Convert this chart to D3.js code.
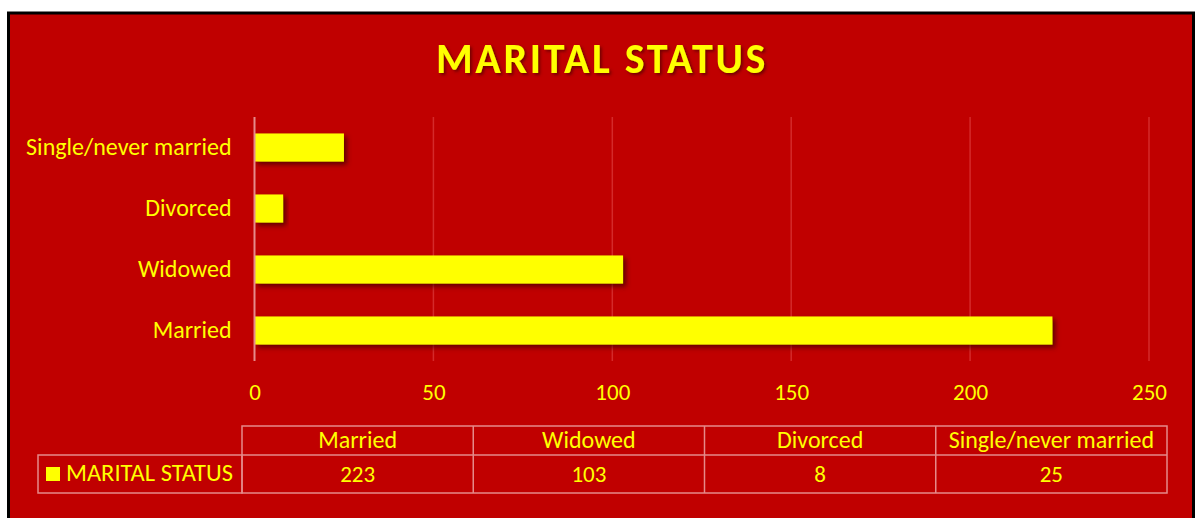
<!DOCTYPE html>
<html>
<head>
<meta charset="utf-8">
<script src="https://cdn.jsdelivr.net/npm/d3@7"></script>
<style>
  html, body { margin: 0; padding: 0; background: #fff; }
  svg { display: block; font-family: Calibri, Carlito, Lato, sans-serif; }
</style>
</head>
<body>
<div id="viz"></div>
<script>
const width = 1195;
const height = 518;
const margin = {top: 117, right: 46, bottom: 157, left: 254.5};

// data
const title = 'MARITAL STATUS';
const seriesName = 'MARITAL STATUS';
const categories = ['Married', 'Widowed', 'Divorced', 'Single/never married'];
const values = [223, 103, 8, 25];
const xTicks = [0, 50, 100, 150, 200, 250];

const red = '#C00000';
const yellow = '#FFFF00';
const lineColor = '#E58A8A';
const font = 'Calibri, Carlito, Lato, sans-serif';

const data = categories.map((c, i) => ({category: c, value: values[i]}));

const svg = d3.select('#viz')
  .append('svg')
    .attr('width', width)
    .attr('height', height);

// drop shadow used by bars and title
const defs = svg.append('defs');
const shadow = defs.append('filter')
  .attr('id', 'shadow')
  .attr('x', '-10%').attr('y', '-30%')
  .attr('width', '130%').attr('height', '180%');
shadow.append('feDropShadow')
  .attr('dx', 3).attr('dy', 3)
  .attr('stdDeviation', 2.5)
  .attr('flood-color', '#400000')
  .attr('flood-opacity', 0.75);

const tshadow = defs.append('filter').attr('id', 'tshadow');
tshadow.append('feDropShadow')
  .attr('dx', 2).attr('dy', 2)
  .attr('stdDeviation', 1.5)
  .attr('flood-color', '#400000')
  .attr('flood-opacity', 0.6);

// chart area with black frame
svg.append('rect')
  .attr('x', 8.5).attr('y', 13)
  .attr('width', 1185).attr('height', 520)
  .attr('fill', red)
  .attr('stroke', '#000')
  .attr('stroke-width', 3);

// title
svg.append('text')
  .attr('x', 602)
  .attr('y', 73)
  .attr('text-anchor', 'middle')
  .attr('font-weight', 'bold')
  .attr('font-size', 42)
  .attr('letter-spacing', 2.7)
  .attr('fill', yellow)
  .attr('filter', 'url(#tshadow)')
  .text(title);

// scales
const x = d3.scaleLinear()
  .domain([0, 250])
  .range([margin.left, width - margin.right]);

const y = d3.scaleBand()
  .domain(categories)
  .range([height - margin.bottom, margin.top])
  .paddingInner(0.54)
  .paddingOuter(0.27);

// gridlines
svg.append('g')
  .selectAll('line')
  .data(xTicks.slice(1))
  .join('line')
    .attr('x1', d => x(d)).attr('x2', d => x(d))
    .attr('y1', margin.top).attr('y2', height - margin.bottom)
    .attr('stroke', '#D42A2A')
    .attr('stroke-width', 1.5);

// bars
svg.append('g')
  .selectAll('rect')
  .data(data)
  .join('rect')
    .attr('x', x(0))
    .attr('y', d => y(d.category))
    .attr('width', d => x(d.value) - x(0))
    .attr('height', y.bandwidth())
    .attr('fill', yellow)
    .attr('filter', 'url(#shadow)');

// vertical axis line at zero
svg.append('line')
  .attr('x1', x(0)).attr('x2', x(0))
  .attr('y1', margin.top).attr('y2', height - margin.bottom)
  .attr('stroke', lineColor)
  .attr('stroke-width', 2);

// category axis
const axisLeft = d3.axisLeft(y).tickSize(0).tickPadding(23);
const yAxis = svg.append('g')
  .attr('transform', `translate(${x(0)},0)`)
  .call(axisLeft);
yAxis.select('.domain').remove();
yAxis.selectAll('text')
  .attr('fill', yellow)
  .attr('font-size', 24)
  .style('font-family', font);

// value axis
const axisBottom = d3.axisBottom(x).tickValues(xTicks).tickSize(0).tickPadding(23);
const xAxis = svg.append('g')
  .attr('transform', `translate(0,${height - margin.bottom})`)
  .call(axisBottom);
xAxis.select('.domain').remove();
xAxis.selectAll('text')
  .attr('fill', yellow)
  .attr('font-size', 23)
  .style('font-family', font);

// data table
const table = {left: 242, right: 1167, top: 426, mid: 455, bottom: 493, legendLeft: 38};
const col = d3.scaleBand()
  .domain(categories)
  .range([table.left, table.right]);

const tg = svg.append('g')
  .attr('stroke', lineColor)
  .attr('stroke-width', 1.5)
  .attr('fill', 'none');
tg.append('rect')
  .attr('x', table.left).attr('y', table.top)
  .attr('width', table.right - table.left).attr('height', table.bottom - table.top);
tg.append('rect')
  .attr('x', table.legendLeft).attr('y', table.mid)
  .attr('width', table.left - table.legendLeft).attr('height', table.bottom - table.mid);
tg.append('line')
  .attr('x1', table.left).attr('x2', table.right)
  .attr('y1', table.mid).attr('y2', table.mid);
tg.selectAll('line.col')
  .data(categories.slice(1))
  .join('line')
    .attr('class', 'col')
    .attr('x1', d => col(d)).attr('x2', d => col(d))
    .attr('y1', table.top).attr('y2', table.bottom);

svg.append('g')
  .selectAll('text')
  .data(categories)
  .join('text')
    .attr('x', d => col(d) + col.bandwidth() / 2)
    .attr('y', 448)
    .attr('text-anchor', 'middle')
    .attr('font-size', 24)
    .attr('fill', yellow)
    .text(d => d);

svg.append('g')
  .selectAll('text')
  .data(data)
  .join('text')
    .attr('x', d => col(d.category) + col.bandwidth() / 2)
    .attr('y', 482)
    .attr('text-anchor', 'middle')
    .attr('font-size', 23)
    .attr('fill', yellow)
    .text(d => d.value);

// legend key
svg.append('rect')
  .attr('x', 46).attr('y', 467)
  .attr('width', 14).attr('height', 14)
  .attr('fill', yellow);
svg.append('text')
  .attr('x', 66)
  .attr('y', 481)
  .attr('font-size', 24.5)
  .attr('fill', yellow)
  .text(seriesName);
</script>
</body>
</html>
